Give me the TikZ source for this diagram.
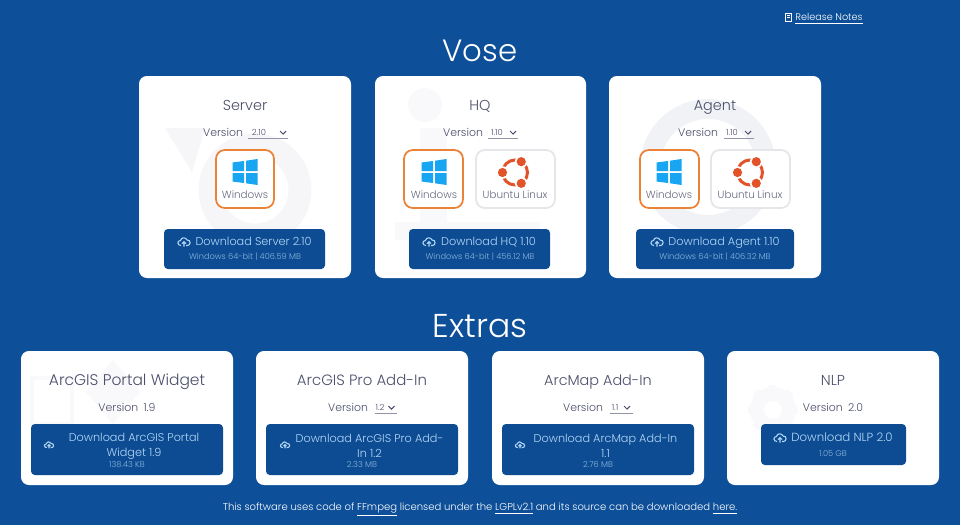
\documentclass[tikz,border=0pt]{standalone}
\usepackage{fontspec}
\setmainfont{Poppins Light}
\definecolor{pagebg}{HTML}{0D4F98}
\definecolor{btnbg}{HTML}{0D4C92}
\definecolor{btntext}{HTML}{B4D8F8}
\definecolor{inktext}{HTML}{4A4E69}
\definecolor{tilering}{HTML}{EC8238}
\definecolor{tilegrey}{HTML}{E6E6EA}
\definecolor{winblue}{HTML}{18A6F2}
\definecolor{ubuorange}{HTML}{E2532A}
\definecolor{wmark}{HTML}{F6F6F9}
\definecolor{wmarkb}{HTML}{F0F2F6}
\definecolor{wmarkc}{HTML}{F9F9FB}
\tikzset{
  cardbox/.style={fill=white, rounded corners=4.5pt},
  btnbox/.style={fill=btnbg, rounded corners=2.2pt},
  tileon/.style={draw=tilering, line width=1pt, fill=white, rounded corners=5pt},
  tileoff/.style={draw=tilegrey, line width=1pt, fill=white, rounded corners=5pt},
  headline/.style={text=white, text height=12.3pt, text depth=0pt, font=\fontsize{17.5}{20}\selectfont},
  cardtitle/.style={text=inktext, text height=5.8pt, text depth=0pt, font=\fontsize{8.2}{10}\selectfont},
  verlabel/.style={text=inktext, text height=4.4pt, text depth=0pt, font=\fontsize{6.2}{8}\selectfont},
  vernum/.style={text=inktext, text height=3.3pt, text depth=0pt, font=\fontsize{4.8}{6}\selectfont},
  tilelabel/.style={text=inktext!85, text height=4.1pt, text depth=0pt, font=\fontsize{5.9}{7}\selectfont},
  btnlabel/.style={text=btntext, text height=4.5pt, text depth=0pt, font=\fontsize{6.4}{8.6}\selectfont},
  btnlines/.style={text=btntext, align=center, font=\fontsize{6.4}{8.6}\selectfont},
  btnsub/.style={text=btntext!75!btnbg, text height=3.3pt, text depth=0pt, font=\fontsize{4.7}{6}\selectfont},
  footline/.style={text=white, text height=3.9pt, text depth=0pt, font=\fontsize{5.72}{7}\selectfont},
  selline/.style={draw=inktext!60, line width=0.3pt},
  chevron/.style={draw=inktext, line width=0.6pt},
  cloudup/.pic={
    \draw[btntext, line width=0.6pt, line join=round] (-3,3.5) .. controls (-7,3.5) and (-7,-1.5) .. (-3.5,-1.5)
      .. controls (-3,-5) and (2,-5) .. (3,-2) .. controls (7,-2.5) and (7,3.5) .. (3.5,3.5) -- (2,3.5);
    \draw[btntext, line width=0.6pt] (0,4.5) -- (0,-0.5) (-2,1.5) -- (0,-0.5) -- (2,1.5);
  },
  winlogo/.pic={
    \fill[winblue] (-12.5,-9.5) -- (-1,-11) -- (-1,-1) -- (-12.5,-1) -- cycle;
    \fill[winblue] (1,-11.3) -- (12.5,-13) -- (12.5,-1) -- (1,-1) -- cycle;
    \fill[winblue] (-12.5,1) -- (-1,1) -- (-1,11) -- (-12.5,9.5) -- cycle;
    \fill[winblue] (1,1) -- (12.5,1) -- (12.5,13) -- (1,11.3) -- cycle;
  },
  ubulogo/.pic={
    \draw[ubuorange, line width=1.7pt] (0,0) circle (12.5);
    \foreach \ang in {-60,60,180}
      \fill[white] (\ang:12.5) circle (6.3);
    \foreach \ang in {-60,60,180}
      \fill[ubuorange] (\ang:12.5) circle (4.6);
  },
}
\begin{document}
\begin{tikzpicture}[x=0.02cm, y=-0.02cm]
  \fill[pagebg] (0,0) rectangle (960,525);
  \useasboundingbox (0,0) rectangle (960,525);

  % Release notes link
  \draw[white, line width=0.4pt, fill=pagebg] (785,13) rectangle (791,21);
  \draw[white, line width=0.3pt] (786.5,15.5) -- (789.5,15.5) (786.5,17.5) -- (789.5,17.5);
  \node[footline, font=\fontsize{5.5}{7}\selectfont, inner sep=0pt] (relnotes) at (829,17) {\underline{Release Notes}};

  % Headlines
  \node[headline] (vosehead) at (480,51) {Vose};
  \node[headline, font=\fontsize{18.8}{20}\selectfont] (extrashead) at (480,327) {Extras};

  % Vose cards
  \fill[cardbox] (139,76) rectangle (351,278);
  \fill[cardbox] (375,76) rectangle (586,278);
  \fill[cardbox] (609,76) rectangle (821,278);

  % Faint marks behind the cards
  \fill[wmark] (165,128) -- (205,128) -- (192,172) -- cycle;
  \draw[wmark, line width=13pt] (255,190) circle (45);
  \fill[wmarkc] (425,105) circle (17);
  \fill[wmarkc] (420,128) rectangle (447,225);
  \fill[wmarkc] (395,222) rectangle (540,240);
  \draw[wmarkb, line width=11.3pt] (708,167) circle (58);

  % Server
  \node[cardtitle] (servertitle) at (245,105) {Server};
  \node[verlabel] (serverver) at (223,133) {Version};
  \node[vernum] (servernum) at (259,133) {2.10};
  \draw[selline] (248,138.5) -- (288,138.5);
  \draw[chevron] (280,131) -- (283,134) -- (286,131);
  \draw[tileon] (216,150) rectangle (274,208);
  \pic at (245,172) {winlogo};
  \node[tilelabel] (serverwin) at (245,194.5) {Windows};
  \fill[btnbox] (164,229) rectangle (325,269);
  \pic at (184,242) {cloudup};
  \node[btnlabel] (serverbtn) at (253.5,242) {Download Server 2.10};
  \node[btnsub] (serversub) at (245,257) {Windows 64-bit | 406.59 MB};

  % HQ
  \node[cardtitle] (hqtitle) at (480,105) {HQ};
  \node[verlabel] (hqver) at (463,133) {Version};
  \node[vernum] (hqnum) at (497,133) {1.10};
  \draw[selline] (488,138.5) -- (518,138.5);
  \draw[chevron] (510,131) -- (513,134) -- (516,131);
  \draw[tileon] (404,150) rectangle (463,208);
  \pic at (434,172) {winlogo};
  \node[tilelabel] (hqwin) at (434,194.5) {Windows};
  \draw[tileoff] (476,150) rectangle (555,208);
  \pic at (515,172.5) {ubulogo};
  \node[tilelabel] (hqubu) at (515,194.5) {Ubuntu Linux};
  \fill[btnbox] (409,229) rectangle (550,269);
  \pic at (429,242) {cloudup};
  \node[btnlabel] (hqbtn) at (488.5,242) {Download HQ 1.10};
  \node[btnsub] (hqsub) at (480,257) {Windows 64-bit | 456.12 MB};

  % Agent
  \node[cardtitle] (agenttitle) at (715,105) {Agent};
  \node[verlabel] (agentver) at (698,133) {Version};
  \node[vernum] (agentnum) at (732,133) {1.10};
  \draw[selline] (724,138.5) -- (754,138.5);
  \draw[chevron] (745,131) -- (748,134) -- (751,131);
  \draw[tileon] (640,150) rectangle (699,208);
  \pic at (669,172) {winlogo};
  \node[tilelabel] (agentwin) at (669,194.5) {Windows};
  \draw[tileoff] (711,150) rectangle (790,208);
  \pic at (750,172.5) {ubulogo};
  \node[tilelabel] (agentubu) at (750,194.5) {Ubuntu Linux};
  \fill[btnbox] (636,229) rectangle (794,269);
  \pic at (657,242) {cloudup};
  \node[btnlabel] (agentbtn) at (724,242) {Download Agent 1.10};
  \node[btnsub] (agentsub) at (715,257) {Windows 64-bit | 406.32 MB};

  % Extras cards
  \fill[cardbox] (21,351) rectangle (233,485);
  \fill[cardbox] (256,351) rectangle (468,485);
  \fill[cardbox] (492,351) rectangle (704,485);
  \fill[cardbox] (727,351) rectangle (939,485);

  % Faint marks in the extras
  \fill[wmarkc] (113,360) -- (140,392) -- (113,424) -- (86,392) -- cycle;
  \draw[wmarkc, line width=2pt] (32,378) rectangle (72,424);
  \draw[wmarkc, line width=8pt] (773,410) circle (16);
  \foreach \ang in {0,45,...,315}
    \draw[wmarkc, line width=5pt] (773,410) ++(\ang:18) -- ++(\ang:7);

  % ArcGIS Portal Widget
  \node[cardtitle, font=\fontsize{8.8}{10}\selectfont] (portaltitle) at (127,380) {ArcGIS Portal Widget};
  \node[verlabel] (portalver) at (127,408) {Version\hspace{3pt}1.9};
  \fill[btnbox] (31,424) rectangle (223,475);
  \pic[scale=0.75] at (49,445) {cloudup};
  \node[btnlines] (portalbtn) at (134,446) {Download ArcGIS Portal\\Widget 1.9};
  \node[btnsub] (portalsub) at (127,465) {138.43 KB};

  % ArcGIS Pro Add-In
  \node[cardtitle, font=\fontsize{8.5}{10}\selectfont] (protitle) at (362,380) {ArcGIS Pro Add-In};
  \node[verlabel] (prover) at (348,408) {Version};
  \node[vernum] (pronum) at (380,408) {1.2};
  \draw[selline] (375,413) -- (397,413);
  \draw[chevron] (388.5,406) -- (391.5,409) -- (394.5,406);
  \fill[btnbox] (266,424) rectangle (458,475);
  \pic[scale=0.75] at (285,445) {cloudup};
  \node[btnlines] (probtn) at (369.5,446) {Download ArcGIS Pro Add-\\In 1.2};
  \node[btnsub] (prosub) at (362,465) {2.33 MB};

  % ArcMap Add-In
  \node[cardtitle] (maptitle) at (598,380) {ArcMap Add-In};
  \node[verlabel] (mapver) at (583,408) {Version};
  \node[vernum] (mapnum) at (615,408) {1.1};
  \draw[selline] (610,413) -- (633,413);
  \draw[chevron] (624,406) -- (627,409) -- (630,406);
  \fill[btnbox] (502,424) rectangle (694,475);
  \pic[scale=0.75] at (520,445) {cloudup};
  \node[btnlines] (mapbtn) at (605.5,446) {Download ArcMap Add-In\\1.1};
  \node[btnsub] (mapsub) at (598,465) {2.76 MB};

  % NLP
  \node[cardtitle] (nlptitle) at (833,380) {NLP};
  \node[verlabel] (nlpver) at (833,408) {Version\hspace{3pt}2.0};
  \fill[btnbox] (761,424) rectangle (906,465);
  \pic at (780,438) {cloudup};
  \node[btnlabel, font=\fontsize{6.7}{8.6}\selectfont] (nlpbtn) at (842,438) {Download NLP 2.0};
  \node[btnsub] (nlpsub) at (833,454) {1.05 GB};

  % Footer
  \node[footline] (footer) at (480,507) {This software uses code of \underline{FFmpeg} licensed under the \underline{LGPLv2.1} and its source can be downloaded \underline{here.}};
\end{tikzpicture}
\end{document}
